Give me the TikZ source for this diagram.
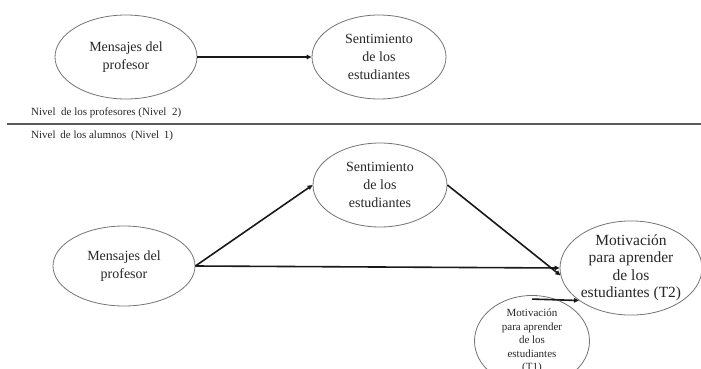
\documentclass[tikz,border=0pt]{standalone}
\usepackage{fontspec}
\setmainfont{Liberation Serif}
\usetikzlibrary{shapes.geometric,arrows.meta}
\tikzset{
  oval/.style={ellipse, draw=black!55, line width=0.8pt, inner sep=0pt, align=center, text=black!85},
  bigtxt/.style={font=\fontsize{14}{18}\selectfont},
  arr/.style={-{Triangle[length=5pt,width=4.5pt]}, line width=1.6pt, black!90},
  lvl/.style={anchor=west, inner sep=0pt, font=\fontsize{11}{12}\selectfont, text=black!85}
}
\begin{document}
\begin{tikzpicture}[x=1pt,y=-1pt]
\useasboundingbox (0,0) rectangle (701,369);
% top section
\node[oval,bigtxt,minimum width=142pt,minimum height=84pt] (m1) at (126,57) {Mensajes del\\profesor};
\node[oval,bigtxt,minimum width=134pt,minimum height=84pt] (s1) at (379,57) {Sentimiento\\de los\\estudiantes};
\draw[arr,line width=1.3pt] (m1.east) -- (s1.west);
\node[lvl] (l2) at (31,113) {Nivel\ \ de los profesores (Nivel\ \ 2)};
\coordinate (la) at (7,124);
\coordinate (lb) at (701,124);
\draw[black!65,line width=1.5pt] (la) -- (lb);
\node[lvl] (l1) at (31,136) {Nivel\hspace{2pt} de los alumnos\hspace{2pt} (Nivel\hspace{2pt} 1)};
% bottom section
\node[oval,bigtxt,minimum width=142pt,minimum height=80pt] (m2) at (124,266) {Mensajes del\\profesor};
\node[oval,bigtxt,minimum width=134pt,minimum height=84pt] (s2) at (380,185) {Sentimiento\\de los\\estudiantes};
\node[oval,font=\fontsize{15.5}{17.5}\selectfont,minimum width=142pt,minimum height=87pt] (t2) at (631,268) {Motivación\\para aprender\\de los\\estudiantes (T2)};
\node[oval,font=\fontsize{11}{13.6}\selectfont,minimum width=115pt,minimum height=82pt] (t1) at (532,341) {Motivación\\para aprender\\de los\\estudiantes\\(T1)};
\draw[arr] (m2.east) -- (s2.west);
\draw[arr] (m2.east) -- (t2.west);
\draw[arr] (s2.east) -- (t2.186);
\draw[arr] ([yshift=-4pt]t1.north) -- (t2.212);
\end{tikzpicture}
\end{document}
